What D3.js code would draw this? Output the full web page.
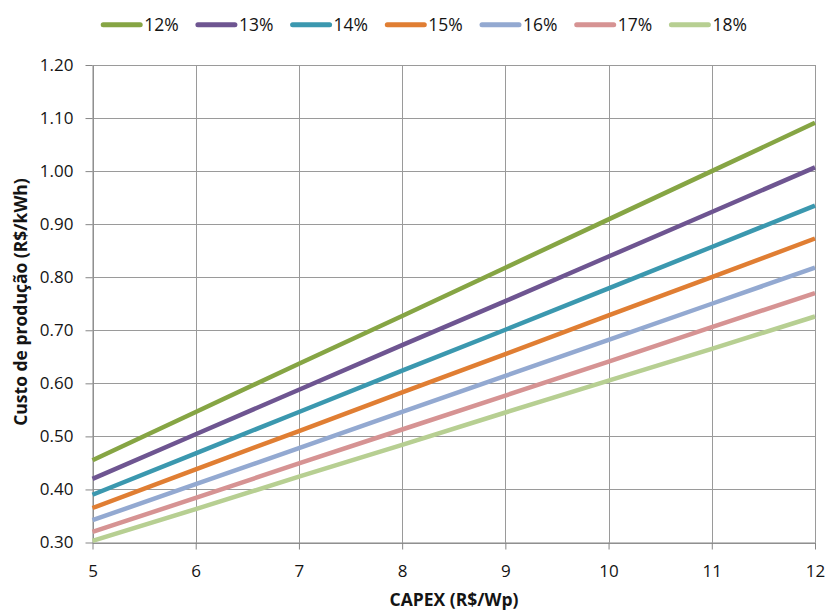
<!DOCTYPE html>
<html><head><meta charset="utf-8">
<script src="https://cdn.jsdelivr.net/npm/d3@7"></script>
<style>body{margin:0;background:#fff}svg{display:block}</style>
</head><body>
<svg id="c" width="826" height="610"></svg>
<script>
const capex = [5, 6, 7, 8, 9, 10, 11, 12];
const seriesNames = ["12%", "13%", "14%", "15%", "16%", "17%", "18%"];
const s12 = [0.455, 0.546, 0.637, 0.727, 0.818, 0.909, 1.000, 1.091];
const s13 = [0.420, 0.504, 0.588, 0.672, 0.755, 0.839, 0.923, 1.007];
const s14 = [0.390, 0.468, 0.546, 0.624, 0.701, 0.779, 0.857, 0.935];
const s15 = [0.365, 0.438, 0.510, 0.583, 0.655, 0.728, 0.800, 0.873];
const s16 = [0.342, 0.410, 0.478, 0.546, 0.614, 0.682, 0.750, 0.818];
const s17 = [0.320, 0.384, 0.449, 0.513, 0.577, 0.641, 0.706, 0.770];
const s18 = [0.303, 0.363, 0.424, 0.484, 0.545, 0.605, 0.665, 0.726];
const yTicks = [0.30, 0.40, 0.50, 0.60, 0.70, 0.80, 0.90, 1.00, 1.10, 1.20];
const xTicks = [5, 6, 7, 8, 9, 10, 11, 12];
const colors = ["#86A544", "#6E5591", "#3B98AF", "#E07E33", "#93A9D1", "#D69393", "#B7CF92"];
const allSeries = [s12, s13, s14, s15, s16, s17, s18];

const svg = d3.select("#c");
const font = "'Open Sans', sans-serif";
const L = 92.5, R = 815, T = 65, B = 542.5;
const x = d3.scaleLinear().domain([5, 12]).range([L, R]);
const y = d3.scaleLinear().domain([0.30, 1.20]).range([B, T]);

// grid
svg.append("g").selectAll("line").data(yTicks).join("line")
  .attr("x1", L).attr("x2", R).attr("y1", d => Math.round(y(d)) + 0.5).attr("y2", d => Math.round(y(d)) + 0.5)
  .attr("stroke", "#9a9a9a").attr("stroke-width", 1);
svg.append("g").selectAll("line").data(xTicks).join("line")
  .attr("y1", T).attr("y2", B).attr("x1", d => Math.round(x(d)) + 0.5).attr("x2", d => Math.round(x(d)) + 0.5)
  .attr("stroke", "#9a9a9a").attr("stroke-width", 1);

// axes
const yAxis = d3.axisLeft(y).tickValues(yTicks).tickFormat(d3.format(".2f")).tickSize(7).tickSizeOuter(0).tickPadding(12);
const gy = svg.append("g").attr("transform", `translate(${L},0)`).call(yAxis);
const xAxis = d3.axisBottom(x).tickValues(xTicks).tickFormat(d3.format("d")).tickSize(7).tickSizeOuter(0).tickPadding(15);
const gx = svg.append("g").attr("transform", `translate(0,${B})`).call(xAxis);
[gy, gx].forEach(g => {
  g.select(".domain").attr("stroke", "#868686");
  g.selectAll(".tick line").attr("stroke", "#868686");
  g.selectAll(".tick text").attr("font-family", font).attr("font-size", 17).attr("fill", "#141414");
});

// lines
const line = d3.line().x((d, i) => x(capex[i])).y(d => y(d));
svg.append("g").selectAll("path").data(allSeries).join("path")
  .attr("d", d => line(d)).attr("fill", "none")
  .attr("stroke", (d, i) => colors[i]).attr("stroke-width", 4.5).attr("stroke-linecap", "butt");

// axis titles
svg.append("text").attr("x", 454).attr("y", 605.5).attr("text-anchor", "middle")
  .attr("font-family", font).attr("font-size", 17.5).attr("font-weight", "bold").attr("fill", "#141414").text("CAPEX (R$/Wp)");
svg.append("text").attr("transform", `translate(27,302) rotate(-90)`).attr("text-anchor", "middle")
  .attr("font-family", font).attr("font-size", 17.5).attr("font-weight", "bold").attr("fill", "#141414").text("Custo de produção (R$/kWh)");

// legend
const lg = svg.append("g").selectAll("g").data(seriesNames).join("g")
  .attr("transform", (d, i) => `translate(${101.7 + i * 94.7},24.7)`);
lg.append("line").attr("x1", 1.5).attr("x2", 38.5).attr("y1", 0).attr("y2", 0)
  .attr("stroke", (d, i) => colors[i]).attr("stroke-width", 5).attr("stroke-linecap", "round");
lg.append("text").attr("x", 42.5).attr("y", 6.5).attr("font-family", font).attr("font-size", 17.5).attr("fill", "#141414").text(d => d);
</script>
</body></html>
